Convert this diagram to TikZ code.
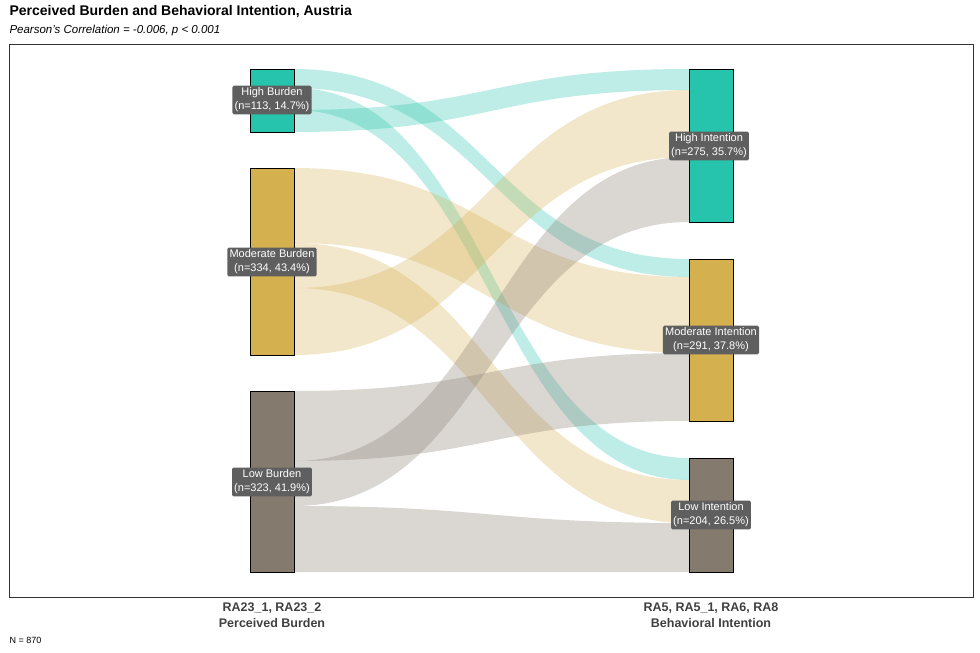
\documentclass[tikz,border=0pt]{standalone}
\usepackage{fontspec}
\setmainfont{Liberation Sans}
\usetikzlibrary{positioning}
\definecolor{hiC}{HTML}{26C4AC}
\definecolor{moC}{HTML}{D4B04E}
\definecolor{loC}{HTML}{857A6E}
\definecolor{tagC}{HTML}{5F5F5F}
\tikzset{
  barbox/.style={draw=black, line width=0.7pt},
  tag/.style={fill=tagC, text=white, rounded corners=1.5pt, align=center, inner sep=2.2pt, font=\fontsize{11}{14}\selectfont},
  axlab/.style={align=center, text=black!75, font=\bfseries\fontsize{12.5}{15.5}\selectfont}
}
\begin{document}
\begin{tikzpicture}[x=1pt, y=-1pt]
        \useasboundingbox (0,0) rectangle (980,653);
        \node[anchor=west, font=\bfseries\fontsize{14}{16}\selectfont] (title) at (6,12) {Perceived Burden and Behavioral Intention, Austria};
        \node[anchor=west, font=\itshape\fontsize{11.5}{13}\selectfont] (subtitle) at (6,31) {Pearson's Correlation = -0.006, p < 0.001};
        \draw[black!80] (9,44) rectangle (973,597);
        % flows: left top, left bottom, right top, right bottom, colour
        \foreach \la/\lb/\ra/\rb/\c in {69/88/259/277/hiC, 88/110/458/480/hiC, 110/132/69/90/hiC,
                168/243/277/353/moC, 243/288/480/523/moC, 288/355/90/157/moC,
                391/461/353/421/loC, 461/506/157/222/loC, 506/572/523/572/loC}
            \fill[\c, opacity=0.3] (294,\la) .. controls (491,\la) and (491,\ra) .. (689,\ra)
                -- (689,\rb) .. controls (491,\rb) and (491,\lb) .. (294,\lb) -- cycle;
        % bars
        \filldraw[barbox, fill=hiC] (250,69) rectangle (294,132);
        \filldraw[barbox, fill=moC] (250,168) rectangle (294,355);
        \filldraw[barbox, fill=loC] (250,391) rectangle (294,572);
        \filldraw[barbox, fill=hiC] (689,69) rectangle (733,222);
        \filldraw[barbox, fill=moC] (689,259) rectangle (733,421);
        \filldraw[barbox, fill=loC] (689,458) rectangle (733,572);
        % labels
        \node[tag] (hiB) at (272,100) {High Burden\\(n=113, 14.7\%)};
        \node[tag] (moB) at (272,262) {Moderate Burden\\(n=334, 43.4\%)};
        \node[tag] (loB) at (272,482) {Low Burden\\(n=323, 41.9\%)};
        \node[tag] (hiI) at (709,146) {High Intention\\(n=275, 35.7\%)};
        \node[tag] (moI) at (711,340) {Moderate Intention\\(n=291, 37.8\%)};
        \node[tag] (loI) at (711,515) {Low Intention\\(n=204, 26.5\%)};
        \node[axlab] (axL) at (272,615) {RA23\_1, RA23\_2\\Perceived Burden};
        \node[axlab] (axR) at (711,615) {RA5, RA5\_1, RA6, RA8\\Behavioral Intention};
        \node[anchor=west, font=\fontsize{9}{11}\selectfont] (total) at (6,640) {N = 870};
\end{tikzpicture}
\end{document}
